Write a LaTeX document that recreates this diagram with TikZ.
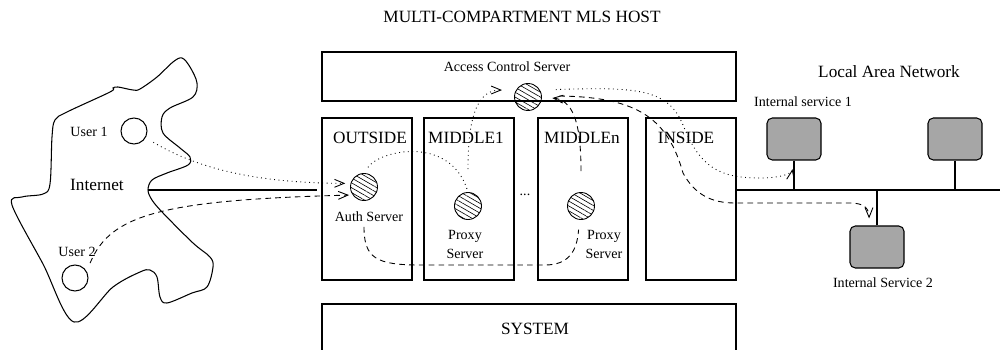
\documentclass[tikz,border=0pt]{standalone}
\usepackage{fontspec}
\setmainfont{Liberation Serif}
\usetikzlibrary{arrows.meta,patterns.meta}
\definecolor{hostgray}{gray}{0.65}

\begin{document}
\begin{tikzpicture}[x=0.2mm, y=-0.2mm,
    big/.style={font=\fontsize{9.8}{11}\selectfont},
    small/.style={font=\fontsize{8}{10.8}\selectfont, align=center},
    compbox/.style={draw, line width=0.6pt, minimum width=1.8cm, minimum height=3.24cm},
    widebox/.style={draw, line width=0.6pt, minimum width=8.28cm},
    srv/.style={circle, draw, line width=0.5pt, inner sep=0pt, minimum size=0.54cm,
        pattern={Lines[angle=-30,distance=2.4pt,line width=0.35pt]}},
    user/.style={circle, draw, line width=0.6pt, inner sep=0pt, minimum size=0.52cm},
    host/.style={draw, line width=0.6pt, rounded corners=3pt, fill=hostgray,
        minimum width=1.08cm, minimum height=0.84cm},
    arr/.style={-{Straight Barb[length=5.5pt,width=4.5pt]}},
    dotline/.style={dotted, line width=0.5pt},
    dashline/.style={dash pattern=on 3.2pt off 2.4pt, line width=0.5pt}]
    \useasboundingbox (0,0) rectangle (1000,350);

    % Define the nodes
    \node[big] (title) at (522,17) {MULTI-COMPARTMENT MLS HOST};

    \node[widebox, minimum height=0.98cm] (acsbox) at (529,76.5) {};
    \node[small] (acslbl) at (507,67) {Access Control Server};
    \node[srv] (acs) at (528,97) {};

    \node[compbox] (outbox) at (367,199) {};
    \node[compbox] (mid1box) at (469,199) {};
    \node[compbox] (midnbox) at (583,199) {};
    \node[compbox] (inbox) at (691,199) {};
    \node[big] (outlbl) at (370,138) {OUTSIDE};
    \node[big] (mid1lbl) at (466,138) {MIDDLE1};
    \node[big] (midnlbl) at (582,138) {MIDDLEn};
    \node[big] (inlbl) at (686,138) {INSIDE};

    \node[widebox, minimum height=1.12cm] (sysbox) at (529,332) {};
    \node[big] (syslbl) at (535,329) {SYSTEM};

    \node[srv] (auth) at (364,187) {};
    \node[small] (authlbl) at (369,217) {Auth Server};
    \node[srv] (proxy1) at (468,206) {};
    \node[small] (proxy1lbl) at (465,244) {Proxy\\Server};
    \node[small] (gap) at (525,195) {...};
    \node[srv] (proxyn) at (581,206) {};
    \node[small] (proxynlbl) at (604,244) {Proxy\\Server};

    % the internet
    \draw[line width=0.6pt] plot[smooth cycle, tension=0.55] coordinates {
        (74,322) (43,264) (12,205) (22,197) (43,194) (50,184) (52,137)
        (55,120) (67,112) (110,92) (113,88) (118,87) (133,90) (140,89) (157,77)
        (173,62) (182,58) (190,67) (197,83) (193,97) (170,108) (162,117) (163,133)
        (180,148) (190,157) (188,165) (167,173) (152,180) (148,190) (152,200)
        (163,213) (193,243) (210,257) (213,267) (207,287) (192,293) (167,303)
        (160,297) (157,277) (150,270) (140,272) (113,287)};
    \node[big] (inet) at (97,185) {Internet};
    \node[user] (user1) at (134,131) {};
    \node[small] (user1lbl) at (89,132) {User 1};
    \node[user] (user2) at (75,278) {};
    \node[small] (user2lbl) at (77,252) {User 2};
    \coordinate (netout) at (148,190);
    \coordinate (gate) at (317,190);

    % the local area network
    \node[big] (lanlbl) at (889,72) {Local Area Network};
    \node[small] (is1lbl) at (803,102) {Internal service 1};
    \node[host] (is1) at (794,139) {};
    \node[host] (is3) at (955,139) {};
    \node[host] (is2) at (877,247) {};
    \node[small] (is2lbl) at (883,283) {Internal Service 2};
    \coordinate (lanend) at (1000,190);

    % Draw the edges
    \draw[line width=0.6pt] (netout) -- (gate);
    \draw[line width=0.6pt] (inbox.east |- lanend) -- (lanend);
    \draw[line width=0.6pt] (is1.south) -- (is1.south |- lanend);
    \draw[line width=0.6pt] (is3.south) -- (is3.south |- lanend);
    \draw[line width=0.6pt] (is2.north) -- (is2.north |- lanend);

    \draw[dotline, arr, shorten <=5pt, shorten >=3pt] (user1.-30)
        .. controls (200,170) and (260,183) .. (auth.165);
    \draw[dashline, arr, shorten <=5pt, shorten >=2pt] (user2.30)
        .. controls (110,215) and (160,200) .. (auth.215);

    \draw[dotline, shorten <=4pt, shorten >=1pt] (auth.north)
        .. controls (380,150) and (450,135) .. (proxy1.north);
    \draw[dotline, arr, shorten >=8pt] ([yshift=4.6mm]proxy1.north)
        .. controls (468,110) and (480,90) .. (acs.150);
    \draw[dotline, arr, shorten <=9pt, shorten >=5pt] (acs.30)
        .. controls (635,87) and (668,88) .. (683,125)
        .. controls (700,168) and (720,178) .. (760,178)
        .. controls (785,178) and (792,172) .. (is1.south);

    \draw[dashline] ([yshift=-5.2mm]auth.south)
        .. controls (364,258) and (376,265) .. (420,265) -- (545,265)
        .. controls (568,265) and (577,252) .. ([yshift=-2mm]proxyn.260);
    \draw[dashline, arr, shorten >=6pt] ([yshift=4.2mm]proxyn.north)
        .. controls (581,120) and (572,100) .. (acs.east);
    \draw[dashline, arr, shorten <=10pt, shorten >=4pt] (acs.5)
        .. controls (640,97) and (668,120) .. (683,173)
        .. controls (695,195) and (712,203) .. (735,203) -- (850,203)
        .. controls (866,203) and (869,210) .. (is2.110);
\end{tikzpicture}
\end{document}
